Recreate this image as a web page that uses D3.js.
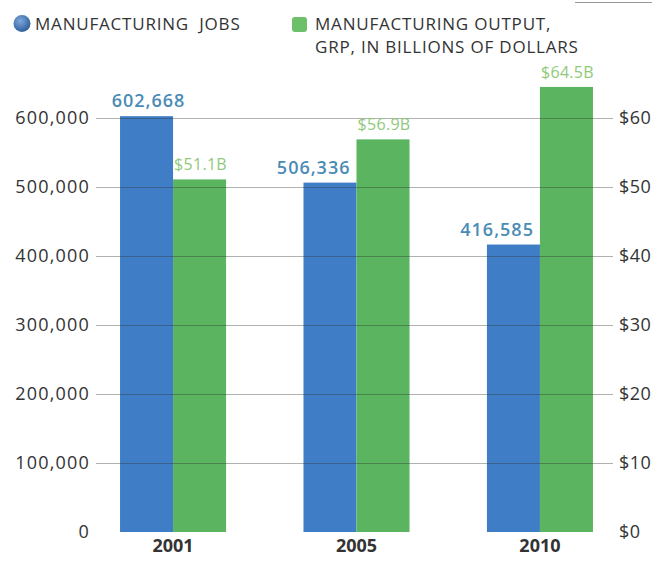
<!DOCTYPE html>
<html>
<head>
<meta charset="utf-8">
<script src="https://cdn.jsdelivr.net/npm/d3@7"></script>
<style>
  html, body { margin: 0; padding: 0; background: #fff; }
  svg { display: block; font-family: "Open Sans", "Noto Sans", sans-serif; }
</style>
</head>
<body>
<svg id="chart" width="657" height="562"></svg>
<script>
// Manufacturing jobs vs. manufacturing output (GRP)
const years = ["2001", "2005", "2010"];
const jobs = [602668, 506336, 416585];
const output = [51.1, 56.9, 64.5];           // billions of dollars
const jobTicks = [0, 100000, 200000, 300000, 400000, 500000, 600000];
const outputTicks = [0, 10, 20, 30, 40, 50, 60];
const legendJobs = "MANUFACTURING JOBS";
const legendOutput = ["MANUFACTURING OUTPUT,", "GRP, IN BILLIONS OF DOLLARS"];

const blue = "#3f7ec6";
const green = "#5bb560";
const blueText = "#4a8cb6";
const greenText = "#8fc97c";
const ink = "#333";

const svg = d3.select("#chart");

const x = d3.scaleBand().domain(years).range([96, 617]).paddingInner(0.422).paddingOuter(0.131);
const yJobs = d3.scaleLinear().domain([0, 600000]).range([532, 118]);
const yOut = d3.scaleLinear().domain([0, 60]).range([532, 118]);
const half = x.bandwidth() / 2;

// bars
const g = svg.append("g");
g.selectAll("rect.jobs").data(years).join("rect")
  .attr("class", "jobs")
  .attr("x", d => x(d))
  .attr("width", half)
  .attr("y", (d, i) => yJobs(jobs[i]))
  .attr("height", (d, i) => yJobs(0) - yJobs(jobs[i]))
  .attr("fill", blue);
g.selectAll("rect.out").data(years).join("rect")
  .attr("class", "out")
  .attr("x", d => x(d) + half)
  .attr("width", half)
  .attr("y", (d, i) => yOut(output[i]))
  .attr("height", (d, i) => yOut(0) - yOut(output[i]))
  .attr("fill", green);

// horizontal rules, drawn over the bars
svg.append("g").selectAll("line").data(jobTicks.filter(t => t > 0)).join("line")
  .attr("x1", 96).attr("x2", 613)
  .attr("y1", d => Math.round(yJobs(d)) + 0.5)
  .attr("y2", d => Math.round(yJobs(d)) + 0.5)
  .attr("stroke", "rgba(50,50,50,0.38)")
  .attr("stroke-width", 1);

// left axis
const leftAxis = d3.axisLeft(yJobs).tickValues(jobTicks).tickSize(0).tickPadding(0)
  .tickFormat(d3.format(","));
svg.append("g").attr("transform", "translate(90,0)").call(leftAxis)
  .call(a => a.select(".domain").remove())
  .selectAll("text")
  .attr("fill", ink).style("font-size", "18px").style("letter-spacing", "1.2px")
  .style("font-family", "'Open Sans', sans-serif");

// right axis
const rightAxis = d3.axisRight(yOut).tickValues(outputTicks).tickSize(0).tickPadding(0)
  .tickFormat(d => "$" + d);
svg.append("g").attr("transform", "translate(619,0)").call(rightAxis)
  .call(a => a.select(".domain").remove())
  .selectAll("text")
  .attr("fill", ink).style("font-size", "18px").style("letter-spacing", "0.5px")
  .style("font-family", "'Open Sans', sans-serif");

// category axis
const bottomAxis = d3.axisBottom(x).tickSize(0).tickPadding(0);
svg.append("g").attr("transform", "translate(0,539)").call(bottomAxis)
  .call(a => a.select(".domain").remove())
  .selectAll("text")
  .attr("fill", ink).attr("dy", "0.71em")
  .style("font-size", "18px").style("font-weight", "700")
  .style("font-family", "'Open Sans', sans-serif");

// value labels: job counts sit over the blue bar, pulled to its right edge
// when the neighbouring output bar is taller
const fmt = d3.format(",");
svg.append("g").selectAll("text").data(years).join("text")
  .attr("x", (d, i) => yOut(output[i]) < yJobs(jobs[i]) ? x(d) + half - 6 : x(d) + half / 2 + 2)
  .attr("text-anchor", (d, i) => yOut(output[i]) < yJobs(jobs[i]) ? "end" : "middle")
  .attr("y", (d, i) => yJobs(jobs[i]) - 9)
  .attr("fill", blueText)
  .style("font-size", "18px").style("font-weight", "600").style("letter-spacing", "1px")
  .text((d, i) => fmt(jobs[i]));
svg.append("g").selectAll("text").data(years).join("text")
  .attr("x", d => x(d) + half * 1.5 + 1)
  .attr("text-anchor", "middle")
  .attr("y", (d, i) => yOut(output[i]) - 9)
  .attr("fill", greenText)
  .style("font-size", "16px").style("font-weight", "500").style("letter-spacing", "0.3px")
  .text((d, i) => "$" + output[i].toFixed(1) + "B");

// legend
const legend = svg.append("g").style("letter-spacing", "0.8px");
const grad = svg.append("defs").append("radialGradient").attr("id", "globe")
  .attr("cx", "40%").attr("cy", "35%").attr("r", "65%");
grad.append("stop").attr("offset", "0%").attr("stop-color", "#7fa9dc");
grad.append("stop").attr("offset", "100%").attr("stop-color", "#2f5f9e");
legend.append("circle").attr("cx", 22).attr("cy", 23.5).attr("r", 8.5).attr("fill", "url(#globe)");
legend.append("text").attr("x", 35).attr("y", 30).attr("fill", ink)
  .style("font-size", "17px").style("word-spacing", "5px").text(legendJobs);
legend.append("rect").attr("x", 292).attr("y", 17).attr("width", 15).attr("height", 15)
  .attr("rx", 3).attr("fill", "#6cc06a");
legend.selectAll("text.out").data(legendOutput).join("text")
  .attr("class", "out")
  .attr("x", 315).attr("y", (d, i) => 30 + i * 23).attr("fill", ink)
  .style("font-size", "17px").text(d => d);

// short rule at the top right corner
svg.append("line").attr("x1", 575).attr("x2", 652).attr("y1", 2.5).attr("y2", 2.5)
  .attr("stroke", "#999").attr("stroke-width", 1);
</script>
</body>
</html>
